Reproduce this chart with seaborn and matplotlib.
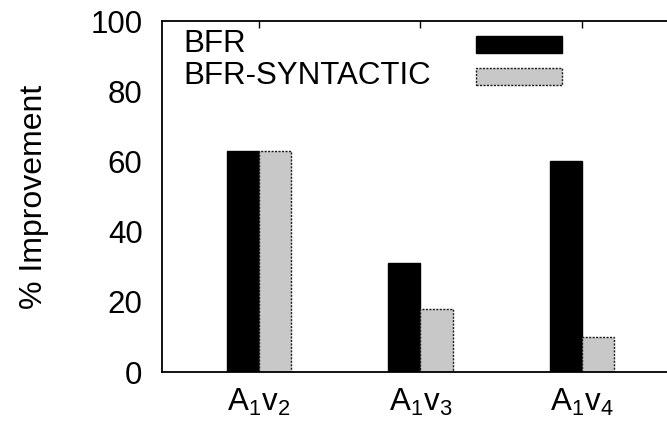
import matplotlib
matplotlib.use("Agg")
import matplotlib.pyplot as plt
from matplotlib.patches import Rectangle
import seaborn as sns
import pandas as pd

# Data
queries = ["A1v2", "A1v3", "A1v4"]
query_labels = [r"A$\mathregular{_1}$v$\mathregular{_2}$",
                r"A$\mathregular{_1}$v$\mathregular{_3}$",
                r"A$\mathregular{_1}$v$\mathregular{_4}$"]
methods = ["BFR", "BFR-SYNTACTIC"]
bfr = [63, 31, 60]
bfr_syntactic = [63, 18, 10]
y_ticks = [0, 20, 40, 60, 80, 100]

df = pd.DataFrame({
    "query": queries * 2,
    "method": [methods[0]] * len(queries) + [methods[1]] * len(queries),
    "improvement": bfr + bfr_syntactic,
})

sns.set_theme(style="white")
plt.rcParams["font.family"] = ["Liberation Sans", "DejaVu Sans"]
plt.rcParams["mathtext.fontset"] = "custom"
plt.rcParams["mathtext.rm"] = "Liberation Sans"
plt.rcParams["mathtext.it"] = "Liberation Sans:italic"
plt.rcParams["text.color"] = "black"
plt.rcParams["axes.labelcolor"] = "black"
plt.rcParams["xtick.color"] = "black"
plt.rcParams["ytick.color"] = "black"

FS = 22.5
colors = ["#000000", "#c8c8c8"]
dotted = (0, (1.5, 1.0))

fig = plt.figure(figsize=(6.67, 4.24), dpi=100)
ax = fig.add_axes([0.2429, 0.1226, 0.775, 0.8278])

sns.barplot(data=df, x="query", y="improvement", hue="method",
            hue_order=methods, order=queries, palette=colors,
            width=0.4, saturation=1, edgecolor="black", linewidth=1.0,
            legend=False, ax=ax)

# dotted outline on the syntactic bars
for bar in ax.containers[1]:
    bar.set_linestyle(dotted)
    bar.set_edgecolor("#1a1a1a")

ax.set_xlim(-0.6, 2.6)
ax.set_ylim(0, 100)
ax.set_yticks(y_ticks)
ax.set_xticks(range(len(queries)))
ax.set_xticklabels(query_labels)
ax.set_xlabel("")
ax.set_ylabel("% Improvement", fontsize=23, labelpad=30)

for s in ax.spines.values():
    s.set_visible(True)
    s.set_color("black")
    s.set_linewidth(1.3)

ax.tick_params(axis="both", direction="in", length=5, width=1,
               color="black", labelcolor="black", top=True, right=True,
               labelsize=FS)
ax.tick_params(axis="y", pad=14)
ax.tick_params(axis="x", pad=11)

# legend: labels on the left, keys on the right
label_y = [0.934, 0.843]
for lab, yy, col in zip(methods, label_y, colors):
    ax.text(0.0406, yy, lab, transform=ax.transAxes, fontsize=FS,
            va="center", ha="left", color="black")
    key = Rectangle((0.607, yy - 0.024), 0.166, 0.048, transform=ax.transAxes,
                    facecolor=col,
                    edgecolor="black" if col == "#000000" else "#1a1a1a",
                    linewidth=1.0,
                    linestyle="-" if col == "#000000" else dotted,
                    clip_on=False)
    ax.add_patch(key)

fig.savefig("out.png", dpi=100)
